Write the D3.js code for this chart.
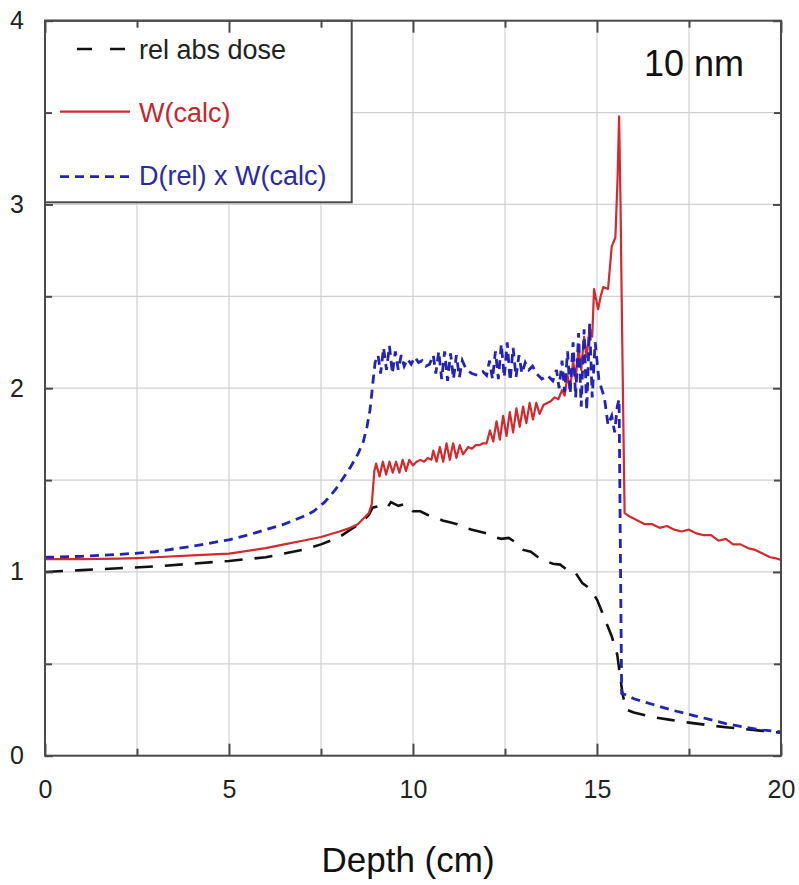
<!DOCTYPE html>
<html>
<head>
<meta charset="utf-8">
<script src="https://cdn.jsdelivr.net/npm/d3@7"></script>
<style>
  html, body { margin: 0; padding: 0; background: #fff; }
  svg { display: block; font-family: "Liberation Sans", Arial, sans-serif; }
</style>
</head>
<body>
<svg id="chart" width="799" height="885"></svg>
<script>
// ---------- data ----------
const xMajorTicks = [0, 5, 10, 15, 20];
const xMinorTicks = [2.5, 7.5, 12.5, 17.5];
const yMajorTicks = [0, 1, 2, 3, 4];
const yMinorTicks = [0.5, 1.5, 2.5, 3.5];
const xTitle = "Depth (cm)";
const panelLabel = "10 nm";
const seriesNames = ["rel abs dose", "W(calc)", "D(rel) x W(calc)"];

// rel abs dose (black long dashes)
const doseX = [0, 1, 2, 3, 4, 5, 6, 6.5, 7, 7.5, 8, 8.3, 8.6, 8.8, 8.9, 9.1, 9.3, 9.4, 9.6, 9.8,
  10.0, 10.2, 10.4, 10.6, 10.8, 11.0, 11.2, 11.4, 11.6, 11.8, 12.0, 12.2, 12.4, 12.6, 12.8,
  13.0, 13.2, 13.4, 13.6, 13.8, 14.0, 14.2, 14.4, 14.6, 14.8, 15.0, 15.2, 15.4, 15.55, 15.65,
  15.7, 15.8, 16.0, 16.5, 17, 17.5, 18, 18.5, 19, 19.5, 20];
const doseY = [1.00, 1.01, 1.02, 1.03, 1.045, 1.06, 1.08, 1.10, 1.12, 1.15, 1.19, 1.23, 1.27, 1.31, 1.35, 1.36, 1.35, 1.38, 1.36, 1.37,
  1.33, 1.33, 1.31, 1.30, 1.28, 1.27, 1.26, 1.24, 1.23, 1.22, 1.21, 1.19, 1.18, 1.185, 1.16,
  1.12, 1.11, 1.08, 1.06, 1.045, 1.04, 1.01, 1.00, 0.94, 0.91, 0.85, 0.75, 0.65, 0.55, 0.40,
  0.33, 0.25, 0.235, 0.21, 0.195, 0.18, 0.167, 0.155, 0.145, 0.135, 0.125];

// W(calc) (red solid)
const wX = [0, 1, 2, 2.5, 3, 4, 5, 6, 6.5, 7, 7.5, 8, 8.3, 8.5, 8.7, 8.8, 8.88, 8.95,
  9.0, 9.09, 9.18, 9.27, 9.36, 9.45, 9.54, 9.63, 9.72, 9.81, 9.9, 10.0, 10.1, 10.2, 10.3, 10.4, 10.5,
  10.55, 10.64, 10.73, 10.82, 10.91, 11.0, 11.09, 11.18, 11.27, 11.36, 11.5, 11.6, 11.7, 11.8, 11.9,
  12.0, 12.09, 12.18, 12.27, 12.36, 12.45, 12.54, 12.63, 12.72, 12.81, 12.9, 12.99, 13.08, 13.17,
  13.26, 13.35, 13.44, 13.55, 13.65, 13.75, 13.85, 13.95, 14.05, 14.12, 14.2, 14.27, 14.35, 14.42,
  14.5, 14.57, 14.65, 14.72, 14.8, 14.87, 14.92, 15.03, 15.1, 15.17, 15.3, 15.4, 15.5, 15.56, 15.6,
  15.64, 15.67, 15.71, 15.75, 15.9, 16.1, 16.3, 16.5, 16.7, 16.9, 17.1, 17.3, 17.5, 17.7, 17.9,
  18.1, 18.3, 18.5, 18.7, 18.9, 19.1, 19.3, 19.5, 19.7, 19.85, 20];
const wY = [1.07, 1.07, 1.072, 1.075, 1.08, 1.09, 1.10, 1.13, 1.15, 1.17, 1.19, 1.22, 1.24, 1.26, 1.30, 1.32, 1.37, 1.55,
  1.59, 1.52, 1.60, 1.53, 1.60, 1.54, 1.60, 1.54, 1.61, 1.55, 1.61, 1.58, 1.60, 1.61, 1.60, 1.62, 1.61,
  1.66, 1.60, 1.68, 1.60, 1.70, 1.61, 1.70, 1.62, 1.69, 1.64, 1.68, 1.67, 1.69, 1.69, 1.70,
  1.70, 1.77, 1.71, 1.82, 1.72, 1.85, 1.74, 1.87, 1.76, 1.89, 1.79, 1.90, 1.81, 1.92,
  1.83, 1.92, 1.86, 1.91, 1.92, 1.93, 1.95, 1.94, 1.99, 1.96, 2.07, 1.99, 2.15, 2.05,
  2.22, 2.10, 2.28, 2.17, 2.33, 2.28, 2.54, 2.43, 2.50, 2.55, 2.54, 2.77, 2.82, 3.15, 3.48,
  3.0, 2.5, 1.9, 1.32, 1.30, 1.28, 1.26, 1.26, 1.24, 1.25, 1.23, 1.22, 1.23, 1.21, 1.20,
  1.20, 1.17, 1.18, 1.15, 1.15, 1.13, 1.12, 1.10, 1.08, 1.075, 1.065];

// D(rel) x W(calc) (blue short dashes)
const dwX = [0, 1, 2, 3, 4, 5, 5.5, 6, 6.5, 7, 7.3, 7.6, 7.9, 8.1, 8.3, 8.5, 8.65, 8.75, 8.83, 8.88, 8.92, 8.97,
  9.05, 9.12, 9.2, 9.28, 9.36, 9.44, 9.52, 9.6, 9.68, 9.76, 9.85, 9.95, 10.05, 10.15, 10.25, 10.35, 10.45,
  10.55, 10.62, 10.7, 10.78, 10.86, 10.94, 11.02, 11.1, 11.18, 11.26, 11.34, 11.45, 11.6, 11.75, 11.9,
  12.0, 12.08, 12.16, 12.24, 12.32, 12.4, 12.48, 12.56, 12.64, 12.72, 12.8, 12.88, 12.96, 13.05, 13.15,
  13.25, 13.35, 13.5, 13.65, 13.8, 13.9, 13.97, 14.05, 14.12, 14.2, 14.27, 14.35, 14.42, 14.5, 14.57,
  14.65, 14.72, 14.8, 14.87, 14.95, 15.05, 15.12, 15.2, 15.3, 15.4, 15.48, 15.55, 15.6, 15.64, 15.67,
  15.8, 16, 16.5, 17, 17.5, 18, 18.5, 19, 19.5, 20];
const dwY = [1.08, 1.085, 1.095, 1.11, 1.14, 1.175, 1.20, 1.23, 1.26, 1.30, 1.33, 1.38, 1.45, 1.51, 1.57, 1.64, 1.71, 1.79, 1.88, 1.97, 2.05, 2.14,
  2.18, 2.08, 2.22, 2.10, 2.23, 2.08, 2.20, 2.10, 2.18, 2.12, 2.16, 2.13, 2.17, 2.14, 2.15, 2.12, 2.13,
  2.18, 2.08, 2.20, 2.05, 2.20, 2.04, 2.19, 2.05, 2.18, 2.06, 2.15, 2.10, 2.08, 2.07, 2.09,
  2.07, 2.15, 2.05, 2.20, 2.05, 2.24, 2.06, 2.25, 2.04, 2.22, 2.06, 2.18, 2.08, 2.14, 2.10,
  2.12, 2.08, 2.05, 2.07, 2.04, 2.10, 2.00, 2.15, 1.98, 2.20, 1.97, 2.25, 1.95, 2.30, 1.90,
  2.32, 1.88, 2.35, 1.95, 2.25, 2.05, 2.00, 1.95, 1.80, 1.85, 1.76, 1.90, 1.94, 1.0, 0.34,
  0.33, 0.31, 0.28, 0.25, 0.225, 0.20, 0.175, 0.155, 0.14, 0.13];

// ---------- drawing ----------
const svg = d3.select("#chart");
const X0 = 45, X1 = 781, Y0 = 755.7, Y1 = 20.7;
const x = d3.scaleLinear().domain([0, 20]).range([X0, X1]);
const y = d3.scaleLinear().domain([0, 4]).range([Y0, Y1]);
const frameColor = "#4a4a4a";
const gridColor = "#d0d0d0";

// grid
const gx = svg.append("g");
gx.selectAll("line.vx").data(xMinorTicks.concat(xMajorTicks.slice(1, -1)))
  .join("line").attr("x1", d => x(d)).attr("x2", d => x(d))
  .attr("y1", Y0).attr("y2", Y1).attr("stroke", gridColor).attr("stroke-width", 1.2);
gx.selectAll("line.hy").data(yMinorTicks.concat(yMajorTicks.slice(1, -1)))
  .join("line").attr("x1", X0).attr("x2", X1)
  .attr("y1", d => y(d)).attr("y2", d => y(d)).attr("stroke", gridColor).attr("stroke-width", 1.2);

// clip
svg.append("clipPath").attr("id", "clip").append("rect")
  .attr("x", X0).attr("y", Y1).attr("width", X1 - X0).attr("height", Y0 - Y1);

const line = d3.line().x(d => x(d[0])).y(d => y(d[1]));
const zip = (a, b) => a.map((v, i) => [v, b[i]]);
const plot = svg.append("g").attr("clip-path", "url(#clip)");

plot.append("path").datum(zip(doseX, doseY)).attr("d", line)
  .attr("fill", "none").attr("stroke", "#111").attr("stroke-width", 2.6)
  .attr("stroke-dasharray", "18,12");
plot.append("path").datum(zip(wX, wY)).attr("d", line)
  .attr("fill", "none").attr("stroke", "#d42a2e").attr("stroke-width", 2.2)
  .attr("stroke-linejoin", "round");
plot.append("path").datum(zip(dwX, dwY)).attr("d", line)
  .attr("fill", "none").attr("stroke", "#2424b4").attr("stroke-width", 2.8)
  .attr("stroke-dasharray", "9,6");

// legend
const lg = svg.append("g");
lg.append("rect").attr("x", X0).attr("y", Y1).attr("width", 351.7 - X0).attr("height", 202.3 - Y1)
  .attr("fill", "#fff").attr("stroke", frameColor).attr("stroke-width", 2);
lg.append("line").attr("x1", 77).attr("x2", 126).attr("y1", 49).attr("y2", 49)
  .attr("stroke", "#111").attr("stroke-width", 2.6).attr("stroke-dasharray", "15,18");
lg.append("line").attr("x1", 60).attr("x2", 130).attr("y1", 111.7).attr("y2", 111.7)
  .attr("stroke", "#d42a2e").attr("stroke-width", 2.2);
lg.append("line").attr("x1", 60).attr("x2", 133).attr("y1", 176.7).attr("y2", 176.7)
  .attr("stroke", "#2424b4").attr("stroke-width", 2.8).attr("stroke-dasharray", "9,6");
const legendColors = ["#222", "#c4282e", "#2a2aa2"];
const legendBase = [59, 122, 185];
lg.selectAll("text").data(seriesNames).join("text")
  .attr("x", 139).attr("y", (d, i) => legendBase[i])
  .attr("fill", (d, i) => legendColors[i]).attr("font-size", 27).text(d => d);

// axes (ticks pointing inward)
const axB = d3.axisBottom(x).tickValues(xMajorTicks).tickSize(-12).tickPadding(25).tickFormat(d3.format("d"));
const axBm = d3.axisBottom(x).tickValues(xMinorTicks).tickSize(-7).tickFormat("");
const axT = d3.axisTop(x).tickValues(xMajorTicks).tickSize(-12).tickFormat("");
const axTm = d3.axisTop(x).tickValues(xMinorTicks).tickSize(-7).tickFormat("");
const axL = d3.axisLeft(y).tickValues(yMajorTicks).tickSize(-8).tickPadding(21).tickFormat(d3.format("d"));
const axLm = d3.axisLeft(y).tickValues(yMinorTicks).tickSize(-7).tickFormat("");
const axR = d3.axisRight(y).tickValues(yMajorTicks).tickSize(-8).tickFormat("");
const axRm = d3.axisRight(y).tickValues(yMinorTicks).tickSize(-7).tickFormat("");

function styleAxis(g, fs) {
  g.select(".domain").remove();
  g.selectAll(".tick line").attr("stroke", frameColor).attr("stroke-width", 2);
  g.selectAll(".tick text").attr("font-size", fs).attr("fill", "#222")
    .attr("font-family", "\"Liberation Sans\", Arial, sans-serif");
}
svg.append("g").attr("transform", `translate(0,${Y0})`).call(axB).call(g => styleAxis(g, 25));
svg.append("g").attr("transform", `translate(0,${Y0})`).call(axBm).call(g => styleAxis(g, 25));
svg.append("g").attr("transform", `translate(0,${Y1})`).call(axT).call(g => styleAxis(g, 25));
svg.append("g").attr("transform", `translate(0,${Y1})`).call(axTm).call(g => styleAxis(g, 25));
svg.append("g").attr("transform", `translate(${X0},0)`).call(axL).call(g => styleAxis(g, 25));
svg.append("g").attr("transform", `translate(${X0},0)`).call(axLm).call(g => styleAxis(g, 25));
svg.append("g").attr("transform", `translate(${X1},0)`).call(axR).call(g => styleAxis(g, 25));
svg.append("g").attr("transform", `translate(${X1},0)`).call(axRm).call(g => styleAxis(g, 25));

// frame
svg.append("rect").attr("x", X0).attr("y", Y1).attr("width", X1 - X0).attr("height", Y0 - Y1)
  .attr("fill", "none").attr("stroke", frameColor).attr("stroke-width", 2);

// titles
svg.append("text").attr("x", 694).attr("y", 76).attr("text-anchor", "middle")
  .attr("font-size", 36).attr("fill", "#111").text(panelLabel);
svg.append("text").attr("x", 408).attr("y", 872).attr("text-anchor", "middle")
  .attr("font-size", 35).attr("fill", "#111").text(xTitle);
</script>
</body>
</html>
